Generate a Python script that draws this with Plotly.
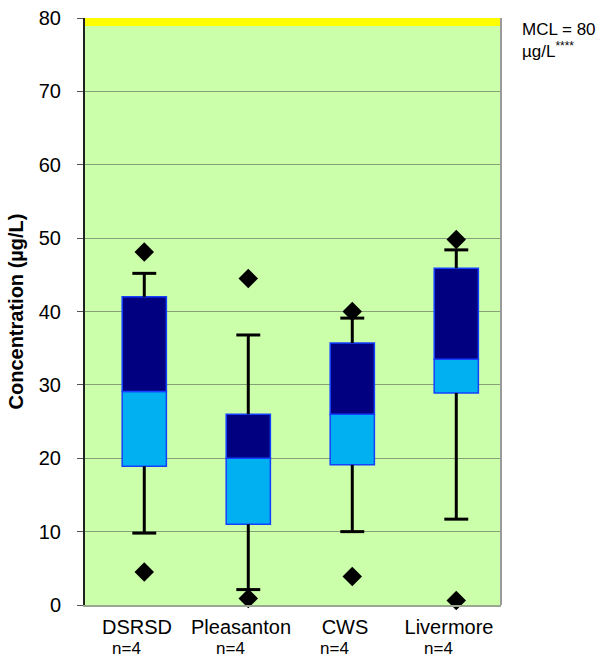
import plotly.graph_objects as go

categories = ["DSRSD", "Pleasanton", "CWS", "Livermore"]
n_labels = ["n=4", "n=4", "n=4", "n=4"]
q1 = [18.9, 11.0, 19.1, 28.9]
median = [29.1, 20.0, 26.0, 33.5]
q3 = [42.0, 26.0, 35.7, 45.9]
whisker_low = [9.8, 2.1, 10.0, 11.7]
whisker_high = [45.2, 36.8, 39.1, 48.4]
outlier_high = [48.1, 44.5, 40.0, 49.8]
outlier_low = [4.5, 0.9, 3.9, 0.6]
mcl = 80
y_ticks = [0, 10, 20, 30, 40, 50, 60, 70, 80]

idx = list(range(len(categories)))
shift = 0.07          # boxes sit slightly right of the category centre
cap = 0.115           # half width of whisker caps (x units)
xb = [i + shift for i in idx]

# build whisker line segments (vertical stems + caps) from the data arrays
wx, wy = [], []
for x, lo, a, b, hi in zip(xb, whisker_low, q1, q3, whisker_high):
    wx += [x, x, None, x - cap, x + cap, None, x, x, None, x - cap, x + cap, None]
    wy += [b, hi, None, hi, hi, None, lo, a, None, lo, lo, None]

fig = go.Figure()

# lower box part (Q1 - median)
fig.add_trace(go.Bar(
    x=xb, y=[m - a for m, a in zip(median, q1)], base=q1, width=0.425,
    marker=dict(color="#00B0F0", line=dict(color="#1540FF", width=1.5)),
    showlegend=False))
# upper box part (median - Q3)
fig.add_trace(go.Bar(
    x=xb, y=[t - m for t, m in zip(q3, median)], base=median, width=0.425,
    marker=dict(color="#000080", line=dict(color="#1540FF", width=1.5)),
    showlegend=False))

# whiskers
fig.add_trace(go.Scatter(
    x=wx, y=wy, mode="lines", line=dict(color="black", width=3),
    showlegend=False, hoverinfo="skip", cliponaxis=False))

# outliers
fig.add_trace(go.Scatter(
    x=xb + xb, y=outlier_high + outlier_low, mode="markers",
    marker=dict(symbol="diamond", size=15, color="black"),
    cliponaxis=False, showlegend=False))

annotations = [
    dict(text=f"MCL = {mcl}<br>µg/L<sup>****</sup>", xref="paper", yref="paper",
         x=1.045, y=1.0, xanchor="left", yanchor="top", showarrow=False,
         align="left", font=dict(size=17, color="black")),
]
for i, n in zip(idx, n_labels):
    annotations.append(dict(text=n, xref="x", yref="paper", x=i - 0.1, y=-0.074,
                            xanchor="center", yanchor="middle", showarrow=False,
                            font=dict(size=17, color="black")))

fig.update_layout(
    width=603, height=659,
    margin=dict(l=85, r=102, t=18, b=54),
    paper_bgcolor="white",
    plot_bgcolor="#CCFFAA",
    barmode="overlay",
    font=dict(family="Arial, Liberation Sans, sans-serif", color="black"),
    xaxis=dict(range=[-0.5, 3.5], tickmode="array", tickvals=idx, ticktext=categories,
               tickfont=dict(size=20), showgrid=False, zeroline=False,
               showline=True, linecolor="#9AA890", linewidth=2, ticks="",
               ticklabelstandoff=3, automargin=False),
    yaxis=dict(range=[0, 80], tickmode="array", tickvals=y_ticks,
               tickfont=dict(size=20), showgrid=True, gridcolor="#86A078",
               gridwidth=1, zeroline=False, showline=True, linecolor="#222222",
               linewidth=2, ticks="outside", ticklen=6, tickcolor="#555555",
               ticklabelstandoff=12, automargin=False,
               title=dict(text="<b>Concentration (µg/L)</b>",
                          font=dict(size=20), standoff=10)),
    shapes=[
        dict(type="rect", xref="paper", yref="y", x0=0, x1=1, y0=mcl - 1.1, y1=mcl,
             fillcolor="#FFFF00", line=dict(width=0), layer="above"),
        dict(type="line", xref="paper", yref="paper", x0=1, x1=1, y0=0, y1=1,
             line=dict(color="#9A9A9A", width=2)),
    ],
    annotations=annotations,
)

fig.write_html("out.html")
